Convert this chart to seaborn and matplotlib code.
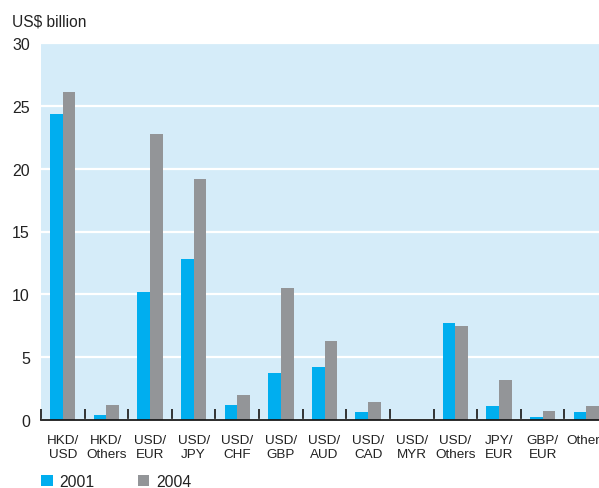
import matplotlib
matplotlib.use("Agg")
import matplotlib.pyplot as plt
import matplotlib.patches as mpatches
import seaborn as sns
import pandas as pd
import numpy as np
from matplotlib.font_manager import fontManager

pairs = ["HKD/\nUSD", "HKD/\nOthers", "USD/\nEUR", "USD/\nJPY", "USD/\nCHF", "USD/\nGBP",
         "USD/\nAUD", "USD/\nCAD", "USD/\nMYR", "USD/\nOthers", "JPY/\nEUR", "GBP/\nEUR", "Others"]
v2001 = [24.35, 0.4, 10.2, 12.8, 1.2, 3.75, 4.2, 0.65, 0.0, 7.7, 1.1, 0.25, 0.65]
v2004 = [26.1, 1.2, 22.75, 19.2, 2.0, 10.5, 6.3, 1.45, 0.0, 7.5, 3.2, 0.7, 1.1]
years = ["2001", "2004"]
colors = ["#00AEEF", "#939598"]

df = pd.DataFrame({
    "pair": pairs * 2,
    "year": [years[0]] * len(pairs) + [years[1]] * len(pairs),
    "value": v2001 + v2004,
})

names = {f.name for f in fontManager.ttflist}
base = "Liberation Sans" if "Liberation Sans" in names else "DejaVu Sans"
narrow = "Liberation Sans Narrow" if "Liberation Sans Narrow" in names else base

sns.set_theme(style="white")
plt.rcParams["font.family"] = [base, "DejaVu Sans"]

W, H = 599, 489
fig = plt.figure(figsize=(W / 100, H / 100), dpi=100)
ax = fig.add_axes([41 / W, 1 - 421 / H, (608 - 41) / W, (421 - 44) / H])
ax.set_facecolor("#D5ECF9")

sns.barplot(data=df, x="pair", y="value", hue="year", order=pairs, hue_order=years,
            palette=colors, saturation=1, width=0.58, gap=0, ax=ax, legend=False,
            linewidth=0, edgecolor="none")

ax.set_xlim(-0.5, 12.5)
ax.set_ylim(0, 30)
ax.set_yticks([0, 5, 10, 15, 20, 25, 30])
ax.set_yticklabels(["0", "5", "10", "15", "20", "25", "30"])
ax.yaxis.grid(True, color="white", linewidth=1.6)
ax.set_axisbelow(True)
for s in ["top", "right", "left"]:
    ax.spines[s].set_visible(False)
ax.spines["bottom"].set_color("#1a1a1a")
ax.spines["bottom"].set_linewidth(1.3)

ax.tick_params(axis="y", length=0, pad=8, labelsize=11.5, labelcolor="#222222")
ax.tick_params(axis="x", which="major", length=0, pad=10, labelcolor="#222222")
for lbl in ax.get_xticklabels():
    lbl.set_fontfamily([narrow, "DejaVu Sans"])
    lbl.set_fontsize(10.5 if narrow != base else 9.7)
    lbl.set_linespacing(1.25)
    lbl.set_verticalalignment("top")
ax.set_xticks(np.arange(-0.5, 12.6, 1.0), minor=True)
ax.tick_params(axis="x", which="minor", direction="in", length=8, width=1.4,
               color="#333333", bottom=True)
ax.set_xlabel("")
ax.set_ylabel("")

fig.text(12 / W, 1 - 22 / H, "US$ billion", fontsize=11.2, color="#222222",
         ha="left", va="center")

handles = [mpatches.Patch(facecolor=c, edgecolor="none", label=y) for c, y in zip(colors, years)]
leg = fig.legend(handles=handles, loc="lower left", bbox_to_anchor=(35 / W, -7 / H),
                 ncol=2, frameon=False, fontsize=11.3, handlelength=0.72, handleheight=0.72,
                 handletextpad=0.45, columnspacing=2.75, borderaxespad=0)
for t in leg.get_texts():
    t.set_color("#222222")

fig.savefig("out.png", dpi=100)
